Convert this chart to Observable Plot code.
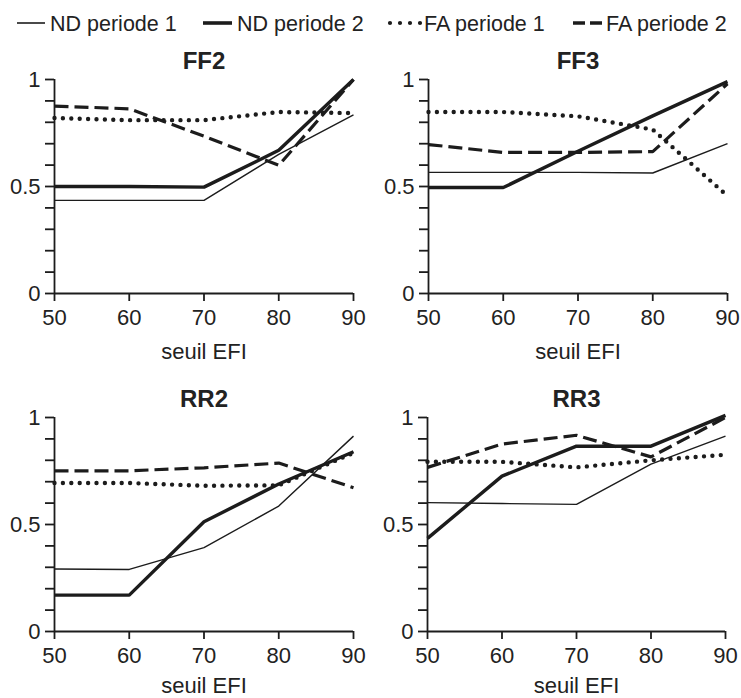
<!DOCTYPE html>
<html>
<head>
<meta charset="utf-8">
<script src="https://cdn.jsdelivr.net/npm/d3@7"></script>
<script src="https://cdn.jsdelivr.net/npm/@observablehq/plot@0.6"></script>
<style>
  body { margin: 0; background: #fff; font-family: "Liberation Sans", Arial, sans-serif; }
  #root { position: relative; width: 741px; height: 698px; overflow: hidden; background: #fff; }
  .abs { position: absolute; }
</style>
</head>
<body>
<div id="root"></div>
<script>
// ---------------- data ----------------
const thresholds = [50, 60, 70, 80, 90];
const xTickLabels = ["50", "60", "70", "80", "90"];
const yMajorTicks = [0, 0.5, 1];
const yMajorLabels = ["0", "0.5", "1"];
const yMinorTicks = [0.1, 0.2, 0.3, 0.4, 0.6, 0.7, 0.8, 0.9];
const panelNames = ["FF2", "FF3", "RR2", "RR3"];
const seriesNames = ["ND periode 1", "ND periode 2", "FA periode 1", "FA periode 2"];
const xLabel = "seuil EFI";

// FF2
const ff2_ND1 = [0.435, 0.435, 0.435, 0.650, 0.835];
const ff2_ND2 = [0.500, 0.500, 0.497, 0.669, 1.000];
const ff2_FA1 = [0.820, 0.810, 0.810, 0.848, 0.843];
const ff2_FA2 = [0.876, 0.863, 0.735, 0.599, 1.000];
// FF3
const ff3_ND1 = [0.566, 0.566, 0.566, 0.563, 0.700];
const ff3_ND2 = [0.495, 0.495, 0.665, 0.830, 0.990];
const ff3_FA1 = [0.848, 0.848, 0.828, 0.766, 0.456];
const ff3_FA2 = [0.696, 0.659, 0.659, 0.663, 0.980];
// RR2
const rr2_ND1 = [0.292, 0.290, 0.392, 0.586, 0.913];
const rr2_ND2 = [0.170, 0.170, 0.513, 0.689, 0.840];
const rr2_FA1 = [0.694, 0.694, 0.681, 0.683, 0.835];
const rr2_FA2 = [0.751, 0.751, 0.765, 0.787, 0.672];
// RR3
const rr3_ND1 = [0.602, 0.598, 0.594, 0.782, 0.913];
const rr3_ND2 = [0.435, 0.726, 0.866, 0.866, 1.010];
const rr3_FA1 = [0.793, 0.793, 0.767, 0.800, 0.826];
const rr3_FA2 = [0.767, 0.876, 0.917, 0.816, 1.000];

const panelSeries = {
  FF2: [ff2_ND1, ff2_ND2, ff2_FA1, ff2_FA2],
  FF3: [ff3_ND1, ff3_ND2, ff3_FA1, ff3_FA2],
  RR2: [rr2_ND1, rr2_ND2, rr2_FA1, rr2_FA2],
  RR3: [rr3_ND1, rr3_ND2, rr3_FA1, rr3_FA2]
};

// ---------------- styles ----------------
const ink = "#1c1c1c";
const textInk = "#222";
const fontFamily = '"Liberation Sans", Arial, sans-serif';
const seriesStyle = {
  "ND periode 1": {strokeWidth: 1.4, strokeDasharray: null, strokeLinecap: "butt"},
  "ND periode 2": {strokeWidth: 3.4, strokeDasharray: null, strokeLinecap: "butt"},
  "FA periode 1": {strokeWidth: 4.4, strokeDasharray: "0,8.4", strokeLinecap: "round"},
  "FA periode 2": {strokeWidth: 3.2, strokeDasharray: "14,6", strokeLinecap: "butt"}
};

const boxes = {
  FF2: {left: 0,   top: 40,  width: 370, height: 320, ml: 54, mr: 17, mt: 39, mb: 67, labelDy: 65},
  FF3: {left: 370, top: 40,  width: 371, height: 320, ml: 58, mr: 14, mt: 39, mb: 67, labelDy: 65},
  RR2: {left: 0,   top: 378, width: 370, height: 320, ml: 54, mr: 17, mt: 39, mb: 67, labelDy: 61},
  RR3: {left: 370, top: 378, width: 371, height: 320, ml: 57, mr: 16, mt: 39, mb: 67, labelDy: 61}
};

const root = document.getElementById("root");

// ---------------- legend ----------------
const legendItems = [
  {name: seriesNames[0], x1: 17, x2: 45, tx: 50},
  {name: seriesNames[1], x1: 203, x2: 232, tx: 237},
  {name: seriesNames[2], x1: 390, x2: 421, tx: 424},
  {name: seriesNames[3], x1: 573, x2: 602, tx: 606}
];
const legendStyle = {
  "ND periode 1": {w: 1.6, dash: null, cap: "butt"},
  "ND periode 2": {w: 3.6, dash: null, cap: "butt"},
  "FA periode 1": {w: 4.2, dash: "0,10", cap: "round"},
  "FA periode 2": {w: 3.6, dash: "12,5", cap: "butt"}
};
const legend = d3.create("svg")
  .attr("class", "abs")
  .attr("width", 741).attr("height", 40)
  .style("left", "0px").style("top", "0px")
  .style("font-family", fontFamily);
for (const it of legendItems) {
  const st = legendStyle[it.name];
  legend.append("line")
    .attr("x1", it.x1).attr("x2", it.x2).attr("y1", 23).attr("y2", 23)
    .attr("stroke", ink).attr("stroke-width", st.w)
    .attr("stroke-linecap", st.cap)
    .attr("stroke-dasharray", st.dash);
  legend.append("text")
    .attr("x", it.tx).attr("y", 30.5)
    .attr("font-size", 21.5).attr("fill", textInk)
    .text(it.name);
}
root.appendChild(legend.node());

// ---------------- panels ----------------
function makePanel(name) {
  const b = boxes[name];
  const series = panelSeries[name];
  const lineMarks = seriesNames.map((s, i) => {
    const st = seriesStyle[s];
    const rows = thresholds.map((t, j) => ({seuil: t, value: series[i][j]}));
    const opts = {x: "seuil", y: "value", stroke: ink, strokeWidth: st.strokeWidth, strokeLinecap: st.strokeLinecap, strokeLinejoin: "miter"};
    if (st.strokeDasharray) opts.strokeDasharray = st.strokeDasharray;
    return Plot.line(rows, opts);
  });
  const chart = Plot.plot({
    width: b.width,
    height: b.height,
    marginLeft: b.ml,
    marginRight: b.mr,
    marginTop: b.mt,
    marginBottom: b.mb,
    style: {fontFamily: fontFamily, fontSize: "22px", color: textInk, background: "transparent", overflow: "visible"},
    x: {domain: [50, 90], axis: null},
    y: {domain: [0, 1], axis: null},
    marks: [
      Plot.ruleY([0], {stroke: ink, strokeWidth: 1.8}),
      Plot.ruleX([50], {y1: 0, y2: 1, stroke: ink, strokeWidth: 1.8}),
      Plot.axisX({ticks: thresholds, tickFormat: d => xTickLabels[thresholds.indexOf(d)], tickSize: 8, tickPadding: 8, strokeWidth: 1.8, stroke: ink, label: null, fill: textInk}),
      Plot.axisY({ticks: yMinorTicks, tickFormat: () => "", tickSize: 9, strokeWidth: 1.8, stroke: ink, label: null}),
      Plot.axisY({ticks: yMajorTicks, tickFormat: d => yMajorLabels[yMajorTicks.indexOf(d)], tickSize: 9, tickPadding: 5, strokeWidth: 1.8, stroke: ink, label: null, fill: textInk}),
      ...lineMarks,
      Plot.text([name], {frameAnchor: "top", lineAnchor: "bottom", dy: -11, fontSize: 24, fontWeight: "bold", fill: textInk}),
      Plot.text([xLabel], {frameAnchor: "bottom", lineAnchor: "bottom", dy: b.labelDy, fontSize: 22, fill: textInk})
    ]
  });
  chart.classList.add("abs");
  chart.style.left = b.left + "px";
  chart.style.top = b.top + "px";
  root.appendChild(chart);
}
panelNames.forEach(makePanel);
</script>
</body>
</html>
